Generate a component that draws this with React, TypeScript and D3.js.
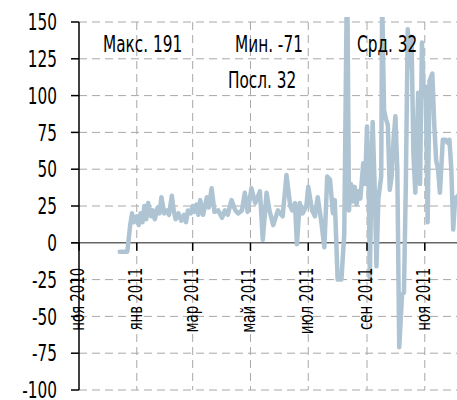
import React from "react";
import * as d3 from "d3";

const dates = [
  "2010-12-14", "2010-12-18", "2010-12-22", "2010-12-25", "2010-12-27", "2010-12-29",
  "2011-01-01", "2011-01-03", "2011-01-05", "2011-01-07", "2011-01-09", "2011-01-11",
  "2011-01-13", "2011-01-16", "2011-01-18", "2011-01-20", "2011-01-23", "2011-01-25",
  "2011-01-27", "2011-01-30", "2011-02-02", "2011-02-04", "2011-02-07", "2011-02-09",
  "2011-02-11", "2011-02-14", "2011-02-17", "2011-02-20", "2011-02-22", "2011-02-24",
  "2011-02-27", "2011-03-01", "2011-03-03", "2011-03-05", "2011-03-07", "2011-03-09",
  "2011-03-12", "2011-03-16", "2011-03-18", "2011-03-21", "2011-03-24", "2011-03-28",
  "2011-04-01", "2011-04-04", "2011-04-07", "2011-04-11", "2011-04-15", "2011-04-18",
  "2011-04-22", "2011-04-25", "2011-04-28", "2011-05-02", "2011-05-06", "2011-05-11",
  "2011-05-14", "2011-05-18", "2011-05-21", "2011-05-25", "2011-05-30", "2011-06-04",
  "2011-06-08", "2011-06-12", "2011-06-14", "2011-06-17", "2011-06-19", "2011-06-22",
  "2011-06-25", "2011-06-29", "2011-07-01", "2011-07-05", "2011-07-08", "2011-07-11",
  "2011-07-15", "2011-07-18", "2011-07-21", "2011-07-24", "2011-07-27", "2011-07-29",
  "2011-08-01", "2011-08-05", "2011-08-08", "2011-08-11", "2011-08-13", "2011-08-15",
  "2011-08-17", "2011-08-19", "2011-08-21", "2011-08-23", "2011-08-25", "2011-08-28",
  "2011-08-30", "2011-09-01", "2011-09-03", "2011-09-04", "2011-09-06", "2011-09-07",
  "2011-09-09", "2011-09-11", "2011-09-13", "2011-09-16", "2011-09-17", "2011-09-19",
  "2011-09-21", "2011-09-23", "2011-09-25", "2011-09-27", "2011-09-29", "2011-10-01",
  "2011-10-03", "2011-10-05", "2011-10-08", "2011-10-10", "2011-10-12", "2011-10-14",
  "2011-10-16", "2011-10-18", "2011-10-20", "2011-10-22", "2011-10-25", "2011-10-27",
  "2011-10-29", "2011-10-31", "2011-11-02", "2011-11-04", "2011-11-06", "2011-11-09",
  "2011-11-11", "2011-11-13", "2011-11-15", "2011-11-17", "2011-11-20", "2011-11-23",
  "2011-11-25", "2011-11-27", "2011-11-29", "2011-12-01", "2011-12-03", "2011-12-06",
];

const values = [
  -6, -6, -6, 12, 20, 14,
  18, 12, 20, 14, 25, 16,
  27, 18, 22, 16, 24, 20,
  31, 20, 22, 19, 32, 22,
  16, 20, 15, 19, 14, 22,
  20, 25, 21, 26, 19, 29,
  19, 31, 24, 37, 21, 22,
  17, 22, 19, 29, 22, 20,
  22, 34, 21, 37, 27, 35,
  2, 34, 22, 12, 22, 18,
  46, 25, 22, 27, -1, 27,
  20, 25, 38, 22, 18, 31,
  13, -3, 45, 43, 20, 29,
  -25, -25, 6, 191, 22, 40,
  28, 38, 26, 35, 30, 54,
  40, 79, 30, -24, 60, 82,
  40, -16, 30, 45, 165, 90,
  84, 80, 36, 45, 70, 86,
  50, -71, -35, -34, 40, 145,
  120, 140, 60, 34, 102, 40,
  136, 100, 106, 14, 110, 115,
  80, 56, 50, 34, 70, 70,
  68, 70, 50, 9, 30, 32,
];

const yTicks = [150, 125, 100, 75, 50, 25, 0, -25, -50, -75, -100];
const monthNames = ["янв", "фев", "мар", "апр", "май", "июн", "июл", "авг", "сен", "окт", "ноя", "дек"];
const stats = [
  { label: "Макс. 191", x: 103, y: 52 },
  { label: "Мин. -71", x: 235, y: 52 },
  { label: "Срд. 32", x: 357, y: 52 },
  { label: "Посл. 32", x: 228, y: 88 },
];

const W = 457;
const H = 400;
const FONT = "'DejaVu Sans Condensed', 'DejaVu Sans', sans-serif";
const LINE = "#aec4d2";
const SQUEEZE = 0.74; // the original font is very narrow

export default function App() {
  const parse = d3.timeParse("%Y-%m-%d");
  const data = dates.map((d, i) => ({ date: parse(d) as Date, value: values[i] }));

  const x = d3
    .scaleTime()
    .domain([new Date(2010, 10, 1), new Date(2011, 11, 5)])
    .range([79, 457]);
  const y = d3.scaleLinear().domain([-100, 150]).range([390, 22]);

  const xTicks = x.ticks(d3.timeMonth.every(2) as d3.TimeInterval);

  const line = d3
    .line<{ date: Date; value: number }>()
    .x((d) => x(d.date))
    .y((d) => y(d.value));

  return (
    <svg
      width={W}
      height={H}
      style={{ position: "absolute", left: 0, top: 0, background: "#fff" }}
      fontFamily={FONT}
    >
      <defs>
        <clipPath id="plot">
          <rect x={79} y={17} width={W - 79} height={H - 17} />
        </clipPath>
      </defs>

      {/* horizontal grid */}
      {yTicks
        .filter((t) => t !== 0)
        .map((t) => (
          <line
            key={"h" + t}
            x1={79}
            x2={W}
            y1={y(t)}
            y2={y(t)}
            stroke="#a8a8a8"
            strokeWidth={1}
            strokeDasharray="8,5"
          />
        ))}
      {/* vertical grid */}
      {xTicks.slice(1).map((t) => (
        <line
          key={"v" + t.getTime()}
          x1={x(t)}
          x2={x(t)}
          y1={y(150)}
          y2={y(-100)}
          stroke="#a8a8a8"
          strokeWidth={1}
          strokeDasharray="8,5"
        />
      ))}

      {/* zero line */}
      <line x1={71} x2={W} y1={y(0)} y2={y(0)} stroke="#666" strokeWidth={1.5} />

      {/* series */}
      <path
        d={line(data) || ""}
        fill="none"
        stroke={LINE}
        strokeWidth={4.5}
        strokeLinejoin="round"
        strokeLinecap="round"
        clipPath="url(#plot)"
      />

      {/* y axis */}
      <line x1={79} x2={79} y1={y(150)} y2={y(-100)} stroke="#000" strokeWidth={1.5} />
      {yTicks.map((t) => (
        <g key={"yt" + t}>
          <line x1={71} x2={79} y1={y(t)} y2={y(t)} stroke="#000" strokeWidth={1.5} />
          <text
            transform={`translate(57,${y(t)}) scale(${SQUEEZE},1)`}
            dy="0.36em"
            textAnchor="end"
            fontSize={23}
            fill="#000"
          >
            {t}
          </text>
        </g>
      ))}

      {/* x ticks and labels */}
      {xTicks.map((t) => (
        <g key={"xt" + t.getTime()}>
          <line x1={x(t)} x2={x(t)} y1={y(0)} y2={y(0) + 8} stroke="#000" strokeWidth={1.5} />
          <text
            transform={`translate(${x(t) + 5},${y(0) + 25}) rotate(-90) scale(${SQUEEZE},1)`}
            textAnchor="end"
            fontSize={20}
            fill="#000"
          >
            {monthNames[t.getMonth()] + " " + t.getFullYear()}
          </text>
        </g>
      ))}

      {/* summary stats */}
      {stats.map((s) => (
        <text
          key={s.label}
          transform={`translate(${s.x},${s.y}) scale(${SQUEEZE},1)`}
          fontSize={23}
          fill="#000"
        >
          {s.label}
        </text>
      ))}
    </svg>
  );
}
